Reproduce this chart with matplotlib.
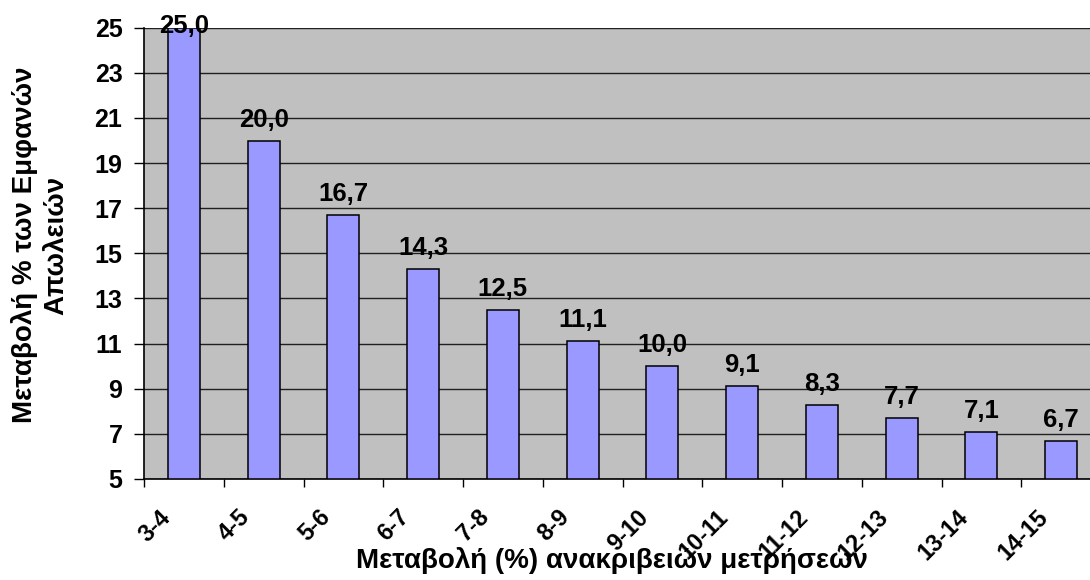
import matplotlib
matplotlib.use("Agg")
import matplotlib.pyplot as plt
import numpy as np
from matplotlib.transforms import ScaledTranslation

categories = ["3-4", "4-5", "5-6", "6-7", "7-8", "8-9", "9-10", "10-11", "11-12", "12-13", "13-14", "14-15"]
values = [25.0, 20.0, 16.7, 14.3, 12.5, 11.1, 10.0, 9.1, 8.3, 7.7, 7.1, 6.7]
yticks = [5, 7, 9, 11, 13, 15, 17, 19, 21, 23, 25]

plt.rcParams['font.family'] = ['Liberation Sans', 'DejaVu Sans']
plt.rcParams['font.weight'] = 'bold'

W, H, DPI = 10.9, 5.8, 100
fig = plt.figure(figsize=(W, H), dpi=DPI)
ax = fig.add_axes([144/1090, 1 - 479/580, (1101-144)/1090, (479-27.7)/580])
ax.set_facecolor('#C0C0C0')

x = np.arange(len(categories))
base = 5
ax.bar(x, np.array(values) - base, bottom=base, width=0.4, color='#9999FF',
       edgecolor='black', linewidth=1.1, zorder=3)

ax.set_xlim(-0.5, len(categories) - 0.5)
ax.set_ylim(5, 25)

fig_h_px = H * DPI
for xi, v in zip(x, values):
    y_px = ax.transData.transform((xi, v))[1]
    top_dist = fig_h_px - y_px
    off_px = min(14.0, top_dist - 33.0)
    ax.annotate(f"{v:.1f}".replace('.', ','), (xi, v), xytext=(0, off_px * 72 / DPI),
                textcoords='offset points', ha='center', va='baseline',
                fontsize=18.5, fontweight='bold', zorder=4, annotation_clip=False)

ax.set_yticks(yticks)
ax.set_yticklabels([str(t) for t in yticks], fontsize=18, fontweight='bold')
ax.yaxis.grid(True, color='#202020', linewidth=1.0, zorder=1)
ax.set_axisbelow(True)
ax.tick_params(axis='y', direction='out', length=7.5, width=1, pad=8)

ax.set_xticks(x)
ax.set_xticks(np.arange(len(categories) + 1) - 0.5, minor=True)
ax.tick_params(axis='x', which='major', length=0, pad=25)
ax.tick_params(axis='x', which='minor', direction='out', length=6, width=1)
ax.set_xticklabels(categories, rotation=45, ha='right', va='center', rotation_mode='anchor',
                   fontsize=17, fontweight='bold')
off = ScaledTranslation(-17/100, 0, fig.dpi_scale_trans)
for lab in ax.get_xticklabels():
    lab.set_transform(lab.get_transform() + off)

for s in ['top', 'right']:
    ax.spines[s].set_visible(False)
for s in ['left', 'bottom']:
    ax.spines[s].set_color('black')
    ax.spines[s].set_linewidth(1.2)

fig.text(612/1090, 1 - 561/580, "Μεταβολή (%) ανακριβειών μετρήσεων", ha='center', va='center',
         fontsize=20, fontweight='bold')
fig.text(40/1090, 1 - 245/580, "Μεταβολή % των Εμφανών\nΑπωλειών", ha='center', va='center',
         rotation=90, fontsize=20, fontweight='bold', linespacing=1.25)

fig.savefig("out.png", dpi=DPI)
